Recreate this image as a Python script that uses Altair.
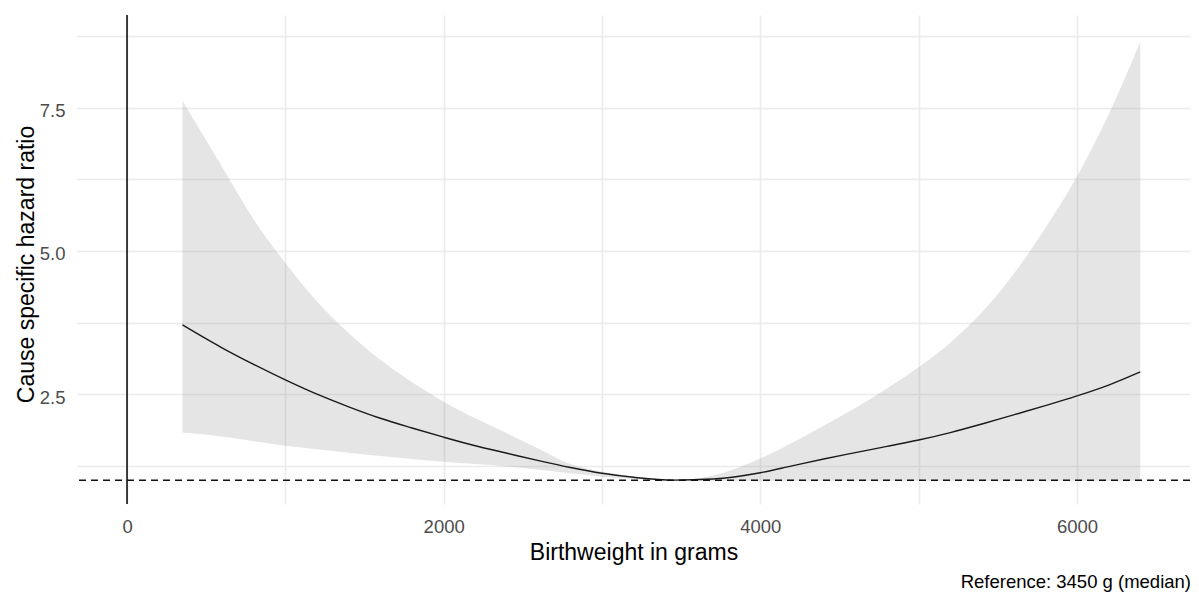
import altair as alt
import pandas as pd

# ---- data ----
weight = [350, 600, 800, 1000, 1200, 1400, 1600, 1800, 2000, 2200, 2400, 2600, 2800,
          3000, 3200, 3450, 3700, 4000, 4200, 4400, 4600, 4800, 5000, 5200, 5400,
          5600, 5800, 6000, 6200, 6400]
hazard = [3.71, 3.31, 3.02, 2.75, 2.50, 2.28, 2.08, 1.91, 1.75, 1.60, 1.47, 1.34, 1.22,
          1.12, 1.05, 1.00, 1.02, 1.13, 1.25, 1.37, 1.48, 1.59, 1.70, 1.83, 1.98,
          2.14, 2.30, 2.47, 2.66, 2.89]
upper = [7.62, 6.47, 5.55, 4.79, 4.12, 3.57, 3.10, 2.71, 2.37, 2.08, 1.82, 1.55, 1.28,
         1.15, 1.06, 1.00, 1.08, 1.38, 1.65, 1.95, 2.26, 2.60, 2.97, 3.40, 3.93,
         4.60, 5.40, 6.30, 7.38, 8.65]
lower = [1.83, 1.76, 1.68, 1.60, 1.54, 1.48, 1.42, 1.37, 1.32, 1.28, 1.24, 1.18, 1.12,
         1.06, 1.02, 1.00, 0.99, 0.99, 0.99, 0.99, 0.99, 0.99, 0.99, 0.99, 0.99,
         0.99, 0.99, 0.99, 0.99, 0.99]

x_ticks = [0, 2000, 4000, 6000]
x_minor = [1000, 3000, 5000]
y_ticks = [2.5, 5.0, 7.5]
y_minor = [1.25, 3.75, 6.25, 8.75]
ref_hr = [1.0]
zero_weight = [0]
caption = ["Reference: 3450 g (median)"]

x_title = "Birthweight in grams"
y_title = "Cause specific hazard ratio"

df = pd.DataFrame({"weight": weight, "hazard": hazard, "lower": lower, "upper": upper})

FONT = "Liberation Sans"
GRID = "#EBEBEB"

x_scale = alt.Scale(domain=[-316, 6714], nice=False, zero=False)
y_scale = alt.Scale(domain=[0.584, 9.118], nice=False, zero=False)

x_axis = alt.Axis(
    values=sorted(x_ticks + x_minor),
    labelExpr="indexof(%s, datum.value) >= 0 ? datum.label : ''" % str(x_ticks),
    format="d",
    title=x_title,
    grid=True, gridColor=GRID, gridWidth=1.6,
    domain=False, ticks=False, tickSize=0,
    labelFontSize=18.5, labelColor="#4D4D4D", labelPadding=13, labelFont=FONT,
    titleFontSize=23, titleColor="black", titleFontWeight="normal", titleFont=FONT,
    titleBaseline="alphabetic", titleY=55,
)
y_axis = alt.Axis(
    values=sorted(y_ticks + y_minor),
    labelExpr="indexof(%s, datum.value) >= 0 ? format(datum.value, '.1f') : ''" % str(y_ticks),
    title=y_title,
    grid=True, gridColor=GRID, gridWidth=1.6,
    domain=False, ticks=False, tickSize=0,
    labelFontSize=18.5, labelColor="#4D4D4D", labelPadding=12, labelFont=FONT,
    labelOffset=3,
    titleFontSize=23, titleColor="black", titleFontWeight="normal", titleFont=FONT,
    titleAngle=270, titleBaseline="alphabetic", titleX=-44, titleY=249,
)

base = alt.Chart(df)

ribbon = base.mark_area(color="#7F7F7F", opacity=0.2, interpolate="monotone").encode(
    x=alt.X("weight:Q", scale=x_scale, axis=x_axis),
    y=alt.Y("lower:Q", scale=y_scale, axis=y_axis),
    y2="upper:Q",
)

line = base.mark_line(color="#1A1A1A", strokeWidth=1.4, interpolate="monotone").encode(
    x=alt.X("weight:Q", scale=x_scale, axis=x_axis),
    y=alt.Y("hazard:Q", scale=y_scale, axis=y_axis),
)

hline = alt.Chart(pd.DataFrame({"hazard": ref_hr})).mark_rule(
    color="#111111", strokeDash=[7, 5], strokeWidth=1.5
).encode(y=alt.Y("hazard:Q", scale=y_scale, axis=y_axis))

vline = alt.Chart(pd.DataFrame({"weight": zero_weight})).mark_rule(
    color="#111111", strokeWidth=1.6
).encode(x=alt.X("weight:Q", scale=x_scale, axis=x_axis))

cap = alt.Chart(pd.DataFrame({"caption": caption})).mark_text(
    align="right", baseline="alphabetic", fontSize=18.5, font=FONT, color="black"
).encode(text="caption:N", x=alt.value(1114), y=alt.value(573))

chart = (
    alt.layer(ribbon, line, hline, vline, cap)
    .properties(
        width=1113, height=489,
        autosize=alt.AutoSizeParams(type="none"),
        padding={"left": 77, "top": 15, "right": 9, "bottom": 89},
        background="white",
    )
    .configure(font=FONT)
    .configure_view(strokeWidth=0, stroke="transparent")
)

chart.save("out.html", embed_options={"renderer": "svg", "actions": False})
